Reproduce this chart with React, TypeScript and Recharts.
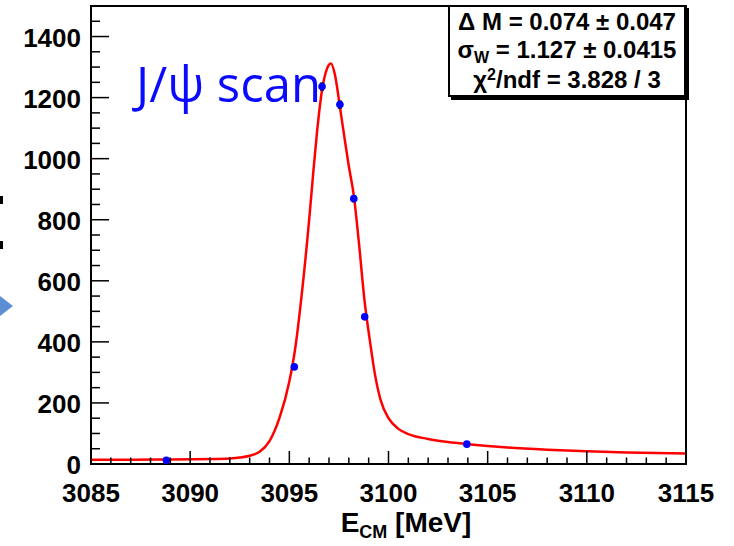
import React from "react";
import {
  ComposedChart, Line, Scatter, ErrorBar, XAxis, YAxis, ReferenceArea,
} from "recharts";

// ---------------------------------------------------------------------------
// Data
// ---------------------------------------------------------------------------
const scanEnergy = [3088.8, 3095.25, 3096.65, 3097.55, 3098.25, 3098.8, 3103.95];
const scanYield = [12, 318, 1236, 1177, 869, 482, 65];
const scanError = [2, 6, 12, 12, 10, 7, 3];

const fitEnergy = [
  3085, 3087, 3089, 3091, 3092, 3092.5, 3093, 3093.5, 3094, 3094.5, 3095, 3095.3,
  3095.6, 3096, 3096.2, 3096.4, 3096.65, 3096.9, 3097.1, 3097.3, 3097.55, 3097.8,
  3098, 3098.26, 3098.5, 3098.8, 3099.07, 3099.3, 3099.6, 3100, 3100.5, 3101,
  3102, 3103, 3104, 3105, 3106, 3108, 3110, 3112, 3115,
];
const fitYield = [
  14, 14, 15, 16, 18, 21, 27, 40, 75, 150, 270, 380,
  540, 800, 950, 1090, 1225, 1295, 1312, 1275, 1170, 1060,
  975, 875, 730, 530, 400, 300, 210, 150, 115, 98,
  82, 72, 65, 59, 54, 47, 42, 38, 34,
];

const xMajorTicks = [3085, 3090, 3095, 3100, 3105, 3110, 3115];
const yMajorTicks = [0, 200, 400, 600, 800, 1000, 1200, 1400];
const xTicks = Array.from({ length: 31 }, (_, i) => 3085 + i);
const yTicks = Array.from({ length: 30 }, (_, i) => i * 50);

const statLines = ["0.074 \u00b1 0.047", "1.127 \u00b1 0.0415", "3.828 / 3"];

const pointData = scanEnergy.map((e, i) => ({ e, v: scanYield[i], err: scanError[i] }));
const curveData = fitEnergy.map((e, i) => ({ e, v: fitYield[i] }));

const FONT = "'Liberation Sans', Arial, Helvetica, sans-serif";

// ---------------------------------------------------------------------------
// ROOT-style ticks (pointing inward)
// ---------------------------------------------------------------------------
function XTick({ x, y, payload }: any) {
  const major = xMajorTicks.includes(payload.value);
  return (
    <g>
      <line x1={x} x2={x} y1={y} y2={y - (major ? 13 : 6.5)} stroke="#000" strokeWidth={1.5} />
      {major && (
        <text x={x} y={y + 38} textAnchor="middle" fontFamily={FONT} fontWeight="bold" fontSize={26} fill="#000">
          {payload.value}
        </text>
      )}
    </g>
  );
}

function YTick({ x, y, payload }: any) {
  const major = yMajorTicks.includes(payload.value);
  return (
    <g>
      <line x1={x} x2={x + (major ? 18 : 9)} y1={y} y2={y} stroke="#000" strokeWidth={1.5} />
      {major && (
        <text x={x - 10} y={y + 10} textAnchor="end" fontFamily={FONT} fontWeight="bold" fontSize={26} fill="#000">
          {payload.value}
        </text>
      )}
    </g>
  );
}

const statRow: React.CSSProperties = {
  position: "absolute", left: 0, right: 0, textAlign: "center", lineHeight: "26px", whiteSpace: "nowrap",
};

export default function App() {
  return (
    <div style={{ position: "absolute", left: 0, top: 0, width: 734, height: 546, background: "#fff", overflow: "hidden" }}>
      <ComposedChart width={734} height={546} margin={{ top: 6, right: 48, left: 0, bottom: 0 }}>
        <XAxis
          dataKey="e" type="number" domain={[3085, 3115]} ticks={xTicks} interval={0}
          allowDataOverflow tickSize={0} tickMargin={0} height={82} axisLine={false} tickLine={false}
          tick={(p: any) => <XTick key={p.index} {...p} />}
        />
        <YAxis
          type="number" domain={[0, 1500]} ticks={yTicks} interval={0}
          allowDataOverflow tickSize={0} tickMargin={0} width={91} axisLine={false} tickLine={false}
          tick={(p: any) => <YTick key={p.index} {...p} />}
        />
        <ReferenceArea x1={3085} x2={3115} y1={0} y2={1500} fill="none" stroke="#000" strokeWidth={2} ifOverflow="visible" />
        <Line data={curveData} dataKey="v" type="monotone" stroke="#ff0000" strokeWidth={2.5} dot={false} isAnimationActive={false} />
        <Scatter data={pointData} dataKey="v" fill="#0000ff" isAnimationActive={false}
          shape={(p: any) => <circle cx={p.cx} cy={p.cy} r={3.8} fill="#0000ff" />}>
          <ErrorBar dataKey="err" direction="y" width={2} stroke="#222" strokeWidth={1.2} />
        </Scatter>
      </ComposedChart>

      {/* stats box */}
      <div style={{
        position: "absolute", left: 448, top: 5, width: 238, height: 92, boxSizing: "border-box",
        border: "2px solid #000", boxShadow: "3px 3px 0 #000", background: "#fff",
        fontFamily: FONT, fontWeight: "bold", fontSize: 24, color: "#000",
      }}>
        <div style={{ ...statRow, top: 2 }}>{"\u0394 M = "}{statLines[0]}</div>
        <div style={{ ...statRow, top: 30 }}>
          {"\u03c3"}<span style={{ fontSize: 16, position: "relative", top: 5 }}>W</span>{" = "}{statLines[1]}
        </div>
        <div style={{ ...statRow, top: 60 }}>
          {"\u03c7"}<span style={{ fontSize: 16, position: "relative", top: -8 }}>2</span>{"/ndf = "}{statLines[2]}
        </div>
      </div>

      {/* label inside plot */}
      <div style={{
        position: "absolute", left: 136, top: 54, fontFamily: "'Open Sans', sans-serif",
        fontSize: 49, color: "#0a0aff", whiteSpace: "nowrap", lineHeight: "58px",
      }}>
        J/{"\u03c8"} scan
      </div>

      {/* axis title */}
      <div style={{
        position: "absolute", left: 0, width: 812, top: 508, textAlign: "center",
        fontFamily: FONT, fontWeight: "bold", fontSize: 28, color: "#000", whiteSpace: "nowrap", lineHeight: "30px",
      }}>
        E<span style={{ fontSize: 18, position: "relative", top: 6 }}>CM</span> [MeV]
      </div>

      {/* leftovers of the slide at the left edge */}
      <div style={{ position: "absolute", left: 0, top: 196, width: 3, height: 8, background: "#000" }} />
      <div style={{ position: "absolute", left: 0, top: 241, width: 3, height: 8, background: "#000" }} />
      <svg style={{ position: "absolute", left: 0, top: 294 }} width={14} height={26}>
        <polygon points="0,2 13,12 0,22" fill="#5b8ed4" />
      </svg>
    </div>
  );
}
